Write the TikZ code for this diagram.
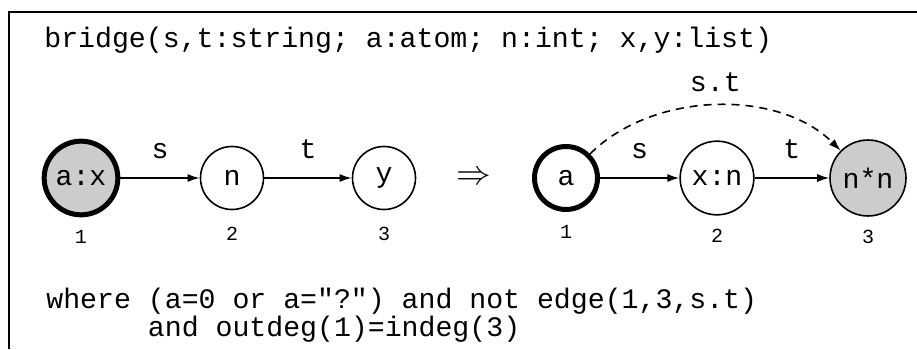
\documentclass[tikz,border=0pt]{standalone}
\usepackage{fontspec}
\setmonofont{Liberation Mono}
\usepackage{tikz}
\usetikzlibrary{arrows.meta, positioning}
\definecolor{nodegray}{RGB}{204,204,204}
\tikzset{
    state/.style = {circle, draw, line width=0.8pt, minimum size=31.5pt, inner sep=4pt, font=\ttfamily\fontsize{14.1}{15}\selectfont},
    rootstate/.style = {state, line width=2.5pt},
    shaded/.style = {fill=nodegray},
    edgelabel/.style = {font=\ttfamily\fontsize{14.1}{15}\selectfont},
    numlabel/.style = {font=\ttfamily\fontsize{10}{12}\selectfont},
    rule/.style = {font=\ttfamily\fontsize{14.1}{15}\selectfont, inner sep=0pt},
    line/.style = {draw, -{Latex[length=6pt, width=4pt]}, line width=0.8pt},
    dashedline/.style = {draw, -{Latex[length=6pt, width=4pt]}, line width=0.8pt, dash pattern=on 4pt off 3pt},
    frame/.style = {draw, line width=1pt}
}
\begin{document}
\begin{tikzpicture}[x=0.5pt, y=0.5pt, node distance=4pt]
        \useasboundingbox (0,0) rectangle (917,349);

        % Frame
        \coordinate (fb) at (9,0);
        \coordinate (fr) at (917,337);
        \path [frame] (fb) |- (fr);

        % Header
        \node [rule, anchor=base west] (head) at (44,301) {bridge(s,t:string; a:atom; n:int; x,y:list)};

        % Left-hand side
        \node [rootstate, shaded] (n1) at (81,171) {a:x};
        \node [state] (n2) at (232,171) {n};
        \node [state] (n3) at (384,171) {y};
        \node [numlabel, below=3pt of n1] (k1) {1};
        \node [numlabel, below=5pt of n2] (k2) {2};
        \node [numlabel, below=5pt of n3] (k3) {3};

        % Rewrite arrow
        \node [font=\LARGE] (impl) at (474,171) {$\Rightarrow$};

        % Right-hand side
        \node [rootstate] (m1) at (566,171) {a};
        \node [state] (m2) at (717,171) {x:n};
        \node [state, shaded] (m3) at (868,171) {n*n};
        \node [numlabel, below=3pt of m1] (l1) {1};
        \node [numlabel, below=3pt of m2] (l2) {2};
        \node [numlabel, below=3pt of m3] (l3) {3};

        % Arrows
        \path [line] (n1) -- node [edgelabel, above=6pt] {s} (n2);
        \path [line] (n2) -- node [edgelabel, above=6pt] {t} (n3);
        \path [line] (m1) -- node [edgelabel, above=6pt] {s} (m2);
        \path [line] (m2) -- node [edgelabel, above=6pt] {t} (m3);
        \path [dashedline] (m1) to [out=45, in=135, looseness=0.9] node [edgelabel, above=3pt] {s.t} (m3);

        % Condition
        \node [rule, anchor=base west] (cond1) at (46,41) {where (a=0 or a="?") and not edge(1,3,s.t)};
        \node [rule, anchor=base west] (cond2) at (46,13) {\phantom{where\ }and outdeg(1)=indeg(3)};

    \end{tikzpicture}
\end{document}
